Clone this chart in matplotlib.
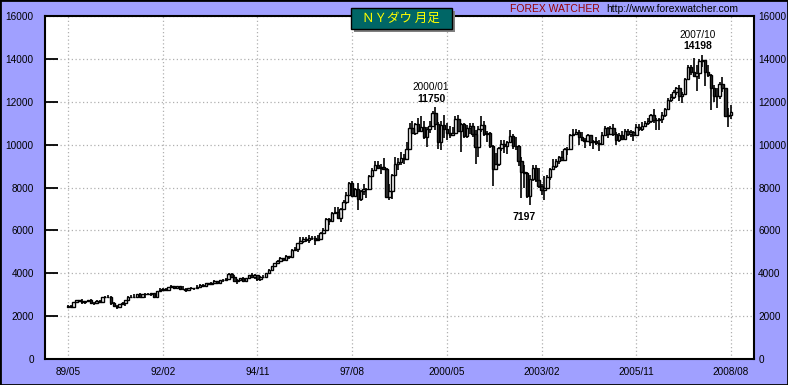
import numpy as np
import pandas as pd
import matplotlib
matplotlib.use("Agg")
import matplotlib.pyplot as plt
from matplotlib.patches import Rectangle

# NY Dow monthly candles, 1989/05 - 2008/08
opens = [
    2419, 2480, 2440, 2661, 2737, 2693, 2645, 2706,
    2753, 2591, 2627, 2707, 2657, 2877, 2881, 2905, 2614, 2453, 2442, 2560,
    2634, 2736, 2882, 2914, 2888, 3028, 2907, 3025, 3044, 3017, 3069, 2895,
    3169, 3224, 3267, 3236, 3359, 3397, 3319, 3394, 3257, 3272, 3226, 3305,
    3301, 3310, 3370, 3435, 3428, 3527, 3516, 3540, 3651, 3555, 3681, 3684,
    3754, 3978, 3832, 3636, 3682, 3758, 3625, 3765, 3913, 3843, 3908, 3739,
    3834, 3844, 4011, 4158, 4321, 4465, 4556, 4709, 4611, 4789, 4756, 5075,
    5117, 5395, 5486, 5588, 5569, 5643, 5655, 5529, 5616, 5882, 6029, 6522,
    6448, 6813, 6878, 6584, 7009, 7331, 7673, 8223, 7622, 7945, 7442, 7823,
    7908, 7907, 8546, 8800, 9063, 8900, 8952, 8883, 7539, 7843, 8592, 9117,
    9181, 9359, 9307, 9786, 10789, 10560, 10971, 10655, 10829, 10337, 10729, 10878,
    11497, 10941, 10128, 10922, 10734, 10522, 10448, 10522, 11215, 10651, 10971, 10415,
    10787, 10887, 10495, 9879, 10735, 10912, 10502, 10523, 9950, 8848, 9075, 9852,
    10022, 9920, 10106, 10404, 9946, 9925, 9243, 8737, 8664, 7592, 8397, 8896,
    8342, 8054, 7891, 7992, 8480, 8850, 8985, 9233, 9416, 9275, 9801, 9782,
    10454, 10488, 10584, 10358, 10226, 10188, 10435, 10140, 10174, 10080, 10027, 10428,
    10783, 10490, 10766, 10504, 10193, 10467, 10275, 10641, 10482, 10569, 10440, 10806,
    10718, 10865, 10993, 11109, 11367, 11168, 11150, 11186, 11381, 11679, 12081, 12221,
    12463, 12622, 12269, 12354, 13063, 13628, 13409, 13212, 13358, 13896, 13930, 13372,
    13265, 12650, 12266, 12263, 12820, 12638, 11350, 11378,
]
highs = [
    2502, 2531, 2670, 2752, 2762, 2791, 2713, 2761,
    2810, 2660, 2755, 2765, 2885, 2935, 3000, 2920, 2680, 2540, 2580, 2660,
    2750, 2960, 2980, 3040, 3040, 3060, 3040, 3070, 3060, 3090, 3070, 3190,
    3290, 3300, 3310, 3380, 3430, 3420, 3420, 3410, 3400, 3290, 3320, 3350,
    3330, 3470, 3500, 3490, 3560, 3560, 3580, 3670, 3660, 3700, 3720, 3800,
    4000, 3990, 3900, 3720, 3790, 3820, 3790, 3930, 3990, 3950, 3900, 3880,
    3940, 4030, 4200, 4350, 4480, 4600, 4750, 4720, 4830, 4800, 5110, 5240,
    5410, 5680, 5690, 5690, 5800, 5760, 5760, 5770, 5910, 6120, 6590, 6590,
    6880, 7080, 7100, 7050, 7420, 7800, 8260, 8300, 8000, 8200, 7890, 8150,
    7990, 8590, 8920, 9250, 9230, 9100, 9370, 8920, 8160, 8650, 9400, 9380,
    9650, 9560, 10100, 11000, 11100, 11000, 11250, 11330, 11100, 10830, 11100, 11570,
    11750, 11050, 11100, 11400, 10990, 10860, 10830, 11330, 11400, 11000, 11000, 10900,
    11000, 11030, 10660, 10860, 11350, 11100, 10650, 10580, 10000, 9600, 9900, 10200,
    10200, 10150, 10670, 10500, 10360, 10000, 9400, 9070, 8700, 8600, 9040, 9040,
    8900, 8150, 8550, 8560, 8900, 9350, 9330, 9450, 9690, 9850, 9880, 10480,
    10750, 10750, 10700, 10580, 10300, 10500, 10450, 10200, 10350, 10200, 10600, 10870,
    10800, 10850, 10980, 10600, 10550, 10650, 10750, 10720, 10700, 10650, 10950, 10950,
    11050, 11100, 11250, 11420, 11680, 11250, 11250, 11500, 11720, 12160, 12360, 12530,
    12680, 12800, 12450, 13130, 13700, 13700, 14020, 13700, 14000, 14198, 13950, 13730,
    13280, 12770, 12620, 12900, 13140, 12650, 11700, 11870,
]
lows = [
    2397, 2420, 2430, 2640, 2655, 2569, 2582, 2660,
    2543, 2540, 2620, 2610, 2650, 2840, 2860, 2540, 2430, 2344, 2420, 2540,
    2450, 2700, 2840, 2850, 2850, 2880, 2900, 2850, 2980, 2960, 2850, 2840,
    3150, 3200, 3200, 3180, 3340, 3260, 3260, 3220, 3240, 3120, 3200, 3250,
    3230, 3300, 3350, 3340, 3400, 3460, 3460, 3530, 3520, 3550, 3580, 3680,
    3730, 3780, 3580, 3520, 3620, 3600, 3620, 3730, 3820, 3750, 3640, 3660,
    3800, 3820, 3980, 4150, 4300, 4430, 4550, 4550, 4600, 4670, 4740, 5020,
    5000, 5370, 5420, 5460, 5420, 5560, 5300, 5500, 5600, 5870, 6000, 6250,
    6420, 6770, 6560, 6390, 6960, 7240, 7620, 7600, 7590, 6970, 7360, 7650,
    7500, 7880, 8480, 8750, 8850, 8630, 8800, 7500, 7400, 7450, 8580, 8800,
    9050, 9100, 9280, 9800, 10500, 10450, 10600, 10580, 10250, 9880, 10540, 10900,
    10690, 9800, 9730, 10300, 10200, 10300, 10400, 10490, 10600, 9650, 10300, 10300,
    10500, 10350, 9100, 9400, 10600, 10400, 10100, 9850, 8062, 8800, 9000, 9700,
    9600, 9550, 10100, 9800, 9750, 9000, 7530, 8000, 7500, 7197, 8300, 8260,
    7990, 7670, 7400, 7990, 8350, 8800, 8900, 9080, 9250, 9350, 9500, 9750,
    10400, 10450, 10000, 10200, 9850, 10150, 9950, 9780, 10000, 9700, 10000, 10400,
    10300, 10450, 10400, 10000, 10100, 10200, 10250, 10400, 10350, 10150, 10400, 10650,
    10650, 10800, 10900, 11000, 11000, 10700, 10680, 11000, 11300, 11650, 12000, 12150,
    12300, 12050, 11950, 12350, 13050, 13250, 13150, 12520, 13050, 13600, 12720, 13150,
    11630, 12000, 11730, 12150, 12450, 11300, 10820, 11200,
]
closes = [
    2480, 2440, 2661, 2737, 2693, 2645, 2706, 2753,
    2591, 2627, 2707, 2657, 2877, 2881, 2905, 2614, 2453, 2442, 2560, 2634,
    2736, 2882, 2914, 2888, 3028, 2907, 3025, 3044, 3017, 3069, 2895, 3169,
    3224, 3267, 3236, 3359, 3397, 3319, 3394, 3257, 3272, 3226, 3305, 3301,
    3310, 3370, 3435, 3428, 3527, 3516, 3540, 3651, 3555, 3681, 3684, 3754,
    3978, 3832, 3636, 3682, 3758, 3625, 3765, 3913, 3843, 3908, 3739, 3834,
    3844, 4011, 4158, 4321, 4465, 4556, 4709, 4611, 4789, 4756, 5075, 5117,
    5395, 5486, 5588, 5569, 5643, 5655, 5529, 5616, 5882, 6029, 6522, 6448,
    6813, 6878, 6584, 7009, 7331, 7673, 8223, 7622, 7945, 7442, 7823, 7908,
    7907, 8546, 8800, 9063, 8900, 8952, 8883, 7539, 7843, 8592, 9117, 9181,
    9359, 9307, 9786, 10789, 10560, 10971, 10655, 10829, 10337, 10729, 10878, 11497,
    10941, 10128, 10922, 10734, 10522, 10448, 10522, 11215, 10651, 10971, 10415, 10787,
    10887, 10495, 9879, 10735, 10912, 10502, 10523, 9950, 8848, 9075, 9852, 10022,
    9920, 10106, 10404, 9946, 9925, 9243, 8737, 8664, 7592, 8397, 8896, 8342,
    8054, 7891, 7992, 8480, 8850, 8985, 9233, 9416, 9275, 9801, 9782, 10454,
    10488, 10584, 10358, 10226, 10188, 10435, 10140, 10174, 10080, 10027, 10428, 10783,
    10490, 10766, 10504, 10193, 10467, 10275, 10641, 10482, 10569, 10440, 10806, 10718,
    10865, 10993, 11109, 11367, 11168, 11150, 11186, 11381, 11679, 12081, 12221, 12463,
    12622, 12269, 12354, 13063, 13628, 13409, 13212, 13358, 13896, 13930, 13372, 13265,
    12650, 12266, 12263, 12820, 12638, 11350, 11378, 11544,
]

tick_labels = ["89/05", "92/02", "94/11", "97/08", "2000/05", "2003/02", "2005/11", "2008/08"]
tick_months = ["1989-05", "1992-02", "1994-11", "1997-08", "2000-05", "2003-02", "2005-11", "2008-08"]

# (month, label above, value)
peaks = [("2000-01", "2000/01", 11750), ("2007-10", "2007/10", 14198)]
troughs = [("2002-10", 7197)]

months = pd.period_range("1989-05", "2008-08", freq="M")
x = np.arange(len(months))
o = np.array(opens)
h = np.array(highs)
l = np.array(lows)
c = np.array(closes)

def idx(m):
    return months.get_loc(pd.Period(m, freq="M"))

plt.rcParams['font.family'] = ['Liberation Sans', 'DejaVu Sans']

fig = plt.figure(figsize=(7.88, 3.85), dpi=100, facecolor="#A0A0FF")
ax = fig.add_axes([45 / 788, 26 / 385, 709 / 788, 343 / 385])
ax.set_facecolor("white")

# wicks then bodies
ax.vlines(x, l, h, color="black", linewidth=1.2, zorder=3)
up = c >= o
body_bottom = np.minimum(o, c)
body_h = np.abs(c - o)
ax.bar(x[up], body_h[up], bottom=body_bottom[up], width=0.85,
       facecolor="white", edgecolor="black", linewidth=1.0, zorder=4)
ax.bar(x[~up], body_h[~up], bottom=body_bottom[~up], width=0.85,
       facecolor="#333333", edgecolor="black", linewidth=1.0, zorder=4)

ax.set_xlim(-8, 239)
ax.set_ylim(0, 16000)
yt = np.arange(0, 16001, 2000)
ax.set_yticks(yt)
ax.set_xticks([idx(m) for m in tick_months])
ax.set_xticklabels(tick_labels)
ax.grid(True, color="#b0b0b0", linestyle=(0, (1, 2)), linewidth=0.9)
ax.set_axisbelow(True)

ax.tick_params(axis="y", direction="in", length=9, width=1.3,
               left=True, right=True, labelleft=True, labelright=False,
               labelsize=7.2, pad=8)
ax.tick_params(axis="x", length=0, labelsize=7.2, pad=6)
for s in ax.spines.values():
    s.set_linewidth(1.5)
    s.set_color("black")

# right-hand labels sit closer to the frame
ax2 = ax.twinx()
ax2.set_ylim(ax.get_ylim())
ax2.set_yticks(yt)
ax2.tick_params(axis="y", length=0, labelsize=7.2, pad=3)
for s in ax2.spines.values():
    s.set_visible(False)

for m, lab, v in peaks:
    xi = idx(m) - 1.5
    ax.text(xi, v + 700, lab, ha="center", va="bottom", fontsize=7.2)
    ax.text(xi, v + 150, str(v), ha="center", va="bottom", fontsize=7.5,
            fontweight="bold")
for m, v in troughs:
    ax.text(idx(m) - 2, v - 350, str(v), ha="center", va="top", fontsize=7.5,
            fontweight="bold")

# title box with shadow
fig.patches.append(Rectangle((354 / 788, 1 - 32 / 385), 101 / 788, 21 / 385,
                             transform=fig.transFigure, facecolor="#808080",
                             edgecolor="none", zorder=10))
fig.patches.append(Rectangle((351 / 788, 1 - 29 / 385), 101 / 788, 21 / 385,
                             transform=fig.transFigure, facecolor="#006666",
                             edgecolor="black", linewidth=1.0, zorder=11))
fig.text(401 / 788, 1 - 18.5 / 385, "ＮＹダウ 月足", ha="center", va="center",
         color="#FFFF00", fontsize=9, zorder=12,
         family=["Noto Sans CJK JP", "DejaVu Sans"])

fig.text(600 / 788, 1 - 9 / 385, "FOREX WATCHER", ha="right", va="center",
         color="#990000", fontsize=7.5)
fig.text(606 / 788, 1 - 9 / 385, "http://www.forexwatcher.com", ha="left",
         va="center", color="black", fontsize=7.5)

# outer border
fig.patches.append(Rectangle((0, 0), 1, 1, transform=fig.transFigure,
                             facecolor="none", edgecolor="black",
                             linewidth=2, zorder=20))

fig.savefig("out.png", dpi=100, facecolor=fig.get_facecolor())
